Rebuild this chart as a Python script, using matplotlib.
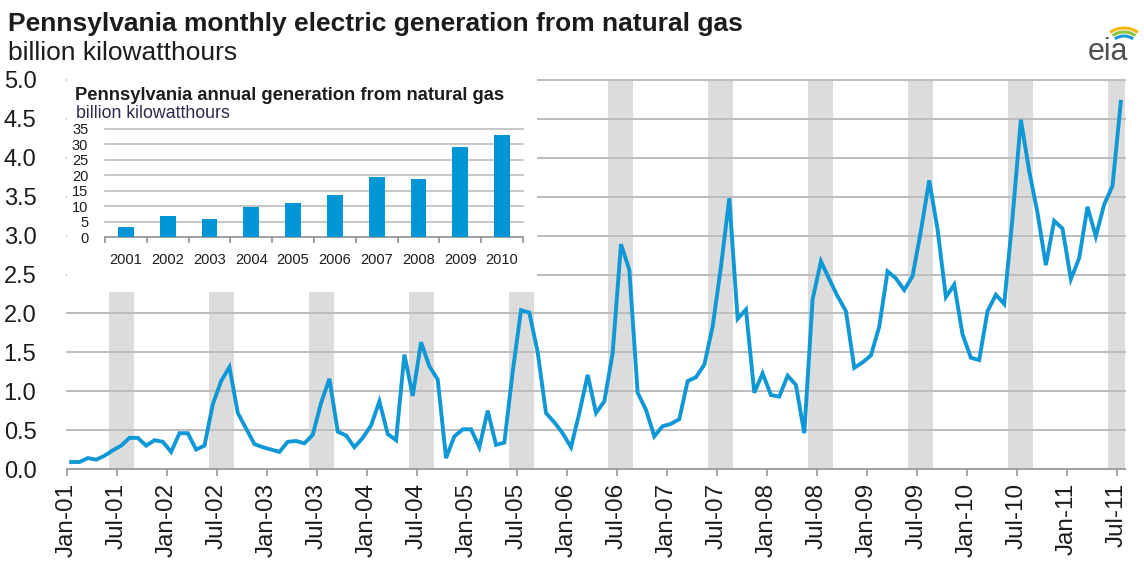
import matplotlib
matplotlib.use('Agg')
import matplotlib.pyplot as plt
import numpy as np
from matplotlib.patches import Rectangle, Arc

plt.rcParams['font.family'] = ['Liberation Sans', 'DejaVu Sans']

# ---------------- data ----------------
monthly_values = [
    # 2001
    0.09, 0.09, 0.14, 0.12, 0.17, 0.24, 0.30, 0.40, 0.40, 0.30, 0.37, 0.35,
    # 2002
    0.22, 0.46, 0.46, 0.25, 0.30, 0.83, 1.13, 1.31, 0.72, 0.52, 0.32, 0.28,
    # 2003
    0.25, 0.22, 0.35, 0.36, 0.33, 0.44, 0.85, 1.16, 0.48, 0.43, 0.28, 0.40,
    # 2004
    0.56, 0.87, 0.45, 0.37, 1.47, 0.94, 1.63, 1.32, 1.15, 0.14, 0.42, 0.51,
    # 2005
    0.51, 0.28, 0.75, 0.31, 0.34, 1.25, 2.04, 2.01, 1.50, 0.72, 0.60, 0.46,
    # 2006
    0.28, 0.72, 1.21, 0.72, 0.87, 1.49, 2.89, 2.56, 0.98, 0.76, 0.42, 0.55,
    # 2007
    0.58, 0.64, 1.13, 1.18, 1.34, 1.83, 2.60, 3.48, 1.93, 2.05, 0.98, 1.23,
    # 2008
    0.95, 0.93, 1.20, 1.08, 0.46, 2.18, 2.67, 2.44, 2.22, 2.03, 1.30, 1.37,
    # 2009
    1.46, 1.83, 2.54, 2.45, 2.30, 2.48, 3.06, 3.71, 3.08, 2.21, 2.37, 1.73,
    # 2010
    1.43, 1.40, 2.03, 2.24, 2.12, 3.23, 4.49, 3.83, 3.29, 2.62, 3.19, 3.09,
    # 2011
    2.44, 2.71, 3.37, 2.99, 3.40, 3.64, 4.72,
]
month_tick_labels = ['Jan-01', 'Jul-01', 'Jan-02', 'Jul-02', 'Jan-03', 'Jul-03',
                     'Jan-04', 'Jul-04', 'Jan-05', 'Jul-05', 'Jan-06', 'Jul-06',
                     'Jan-07', 'Jul-07', 'Jan-08', 'Jul-08', 'Jan-09', 'Jul-09',
                     'Jan-10', 'Jul-10', 'Jan-11', 'Jul-11']
summer_years = list(range(2001, 2012))

annual_years = ['2001', '2002', '2003', '2004', '2005',
                '2006', '2007', '2008', '2009', '2010']
annual_values = [3.2, 7.0, 5.8, 9.7, 11.0, 13.6, 19.5, 18.8, 29.1, 33.0]

# ---------------- style ----------------
LINE_BLUE = '#0f98d5'
BAR_BLUE = '#0096d6'
GRID = '#bdbdbd'
BAND = '#dcdcdc'
TEXT = '#1c1c1c'

W, H = 1144, 568
fig = plt.figure(figsize=(W / 100, H / 100), dpi=100)

def px_rect(x0, y0, x1, y1):
    return [x0 / W, 1 - y1 / H, (x1 - x0) / W, (y1 - y0) / H]

# ---------------- main axes ----------------
ax = fig.add_axes(px_rect(67, 80, 1125, 469))
n = len(monthly_values)
x = np.arange(n) + 0.5
ax.set_xlim(0, n)
ax.set_ylim(0, 5.0)

for yr in summer_years:
    start = (yr - 2001) * 12 + 5
    ax.axvspan(start, start + 3, color=BAND, zorder=0.5, lw=0)

for gy in np.arange(0.5, 5.01, 0.5):
    ax.axhline(gy, color=GRID, lw=1.4, zorder=0.8, clip_on=False)

# white area behind inset
ax.add_patch(Rectangle((0, 0.455), 0.444, 0.56, transform=ax.transAxes,
                       facecolor='white', edgecolor='none', zorder=1.0,
                       clip_on=False))

ax.plot(x, monthly_values, color=LINE_BLUE, lw=2.8, zorder=3,
        solid_joinstyle='miter')

for s in ['top', 'right', 'left']:
    ax.spines[s].set_visible(False)
ax.spines['bottom'].set_color('#a0a0a0')
ax.spines['bottom'].set_linewidth(1.4)
ax.spines['bottom'].set_zorder(2)

ax.set_xticks(np.arange(0, n, 6))
ax.set_xticklabels(month_tick_labels, rotation=90, fontsize=17.5, color=TEXT)
ax.tick_params(axis='x', length=5, width=1.3, color='#a0a0a0', pad=5)
ax.set_yticks(np.arange(0, 5.01, 0.5))
ax.set_yticklabels(['%.1f' % v for v in np.arange(0, 5.01, 0.5)],
                   fontsize=17, color=TEXT)
ax.tick_params(axis='y', length=0, pad=22)

# ---------------- titles ----------------
fig.text(8 / W, 1 - 31.5 / H, 'Pennsylvania monthly electric generation from natural gas',
         fontsize=19, fontweight='bold', color=TEXT, va='baseline', ha='left')
fig.text(8 / W, 1 - 60 / H, 'billion kilowatthours',
         fontsize=19, color=TEXT, va='baseline', ha='left')

# ---------------- inset ----------------
ax2 = fig.add_axes(px_rect(105, 129, 523, 237.3))
ax2.patch.set_alpha(0)
xi = np.arange(len(annual_values))
ax2.bar(xi, annual_values, width=0.38, color=BAR_BLUE, zorder=3)
ax2.set_xlim(-0.5, len(annual_values) - 0.5)
ax2.set_ylim(0, 35)
ax2.set_yticks(np.arange(0, 36, 5))
ax2.set_yticklabels([str(v) for v in range(0, 36, 5)], fontsize=10.5, color=TEXT)
ax2.tick_params(axis='y', length=0, pad=12)
for gy in range(5, 36, 5):
    ax2.axhline(gy, color=GRID, lw=1.2, zorder=1, clip_on=False)
ax2.set_xticks(xi)
ax2.set_xticklabels(annual_years, fontsize=10.5, color=TEXT)
ax2.tick_params(axis='x', which='major', length=0, pad=11)
ax2.set_xticks(np.arange(-0.5, len(annual_values)), minor=True)
ax2.tick_params(axis='x', which='minor', length=4, width=1.2, color='#909090')
for s in ['top', 'right', 'left']:
    ax2.spines[s].set_visible(False)
ax2.spines['bottom'].set_color('#909090')
ax2.spines['bottom'].set_linewidth(1.2)

fig.text(75 / W, 1 - 100 / H, 'Pennsylvania annual generation from natural gas',
         fontsize=13.2, fontweight='bold', color=TEXT, va='baseline', ha='left')
fig.text(76 / W, 1 - 118 / H, 'billion kilowatthours',
         fontsize=12.8, color='#2a2a50', va='baseline', ha='left')

# ---------------- logo ----------------
axl = fig.add_axes(px_rect(1082, 10, 1140, 68))
axl.set_xlim(0, 58)
axl.set_ylim(0, 58)
axl.axis('off')
axl.text(26, 8, 'eia', fontsize=22, color='#505050', ha='center', va='baseline')
for r, c in [(48, '#f2b705'), (40, '#8cc63f'), (32, '#1a9ad6')]:
    axl.add_patch(Arc((42, 16), r, r, theta1=55, theta2=125, color=c, lw=2.2))

fig.savefig('out.png', dpi=100)
